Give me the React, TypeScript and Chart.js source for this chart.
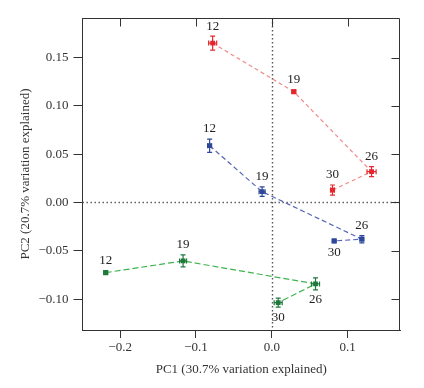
import React, { useEffect, useRef } from 'react';
import { Chart, registerables } from 'chart.js';

Chart.register(...registerables);

const CATEGORIES = ['12', '19', '26', '30'];

const RED_X = [-0.078, 0.029, 0.1315, 0.08];
const RED_Y = [0.165, 0.1147, 0.0319, 0.0129];
const RED_EX = [0.0053, 0.0026, 0.006, 0.0026];
const RED_EY = [0.0072, 0.002, 0.0052, 0.0052];
const RED_SIDE = ['above', 'above', 'above', 'above'];

const BLUE_X = [-0.082, -0.0128, 0.1187, 0.0822];
const BLUE_Y = [0.0588, 0.0112, -0.038, -0.0398];
const BLUE_EX = [0.0026, 0.004, 0.0026, 0.0026];
const BLUE_EY = [0.0069, 0.0049, 0.0038, 0.002];
const BLUE_SIDE = ['above', 'above', 'above', 'below'];

const GREEN_X = [-0.219, -0.117, 0.0576, 0.0084];
const GREEN_Y = [-0.0726, -0.0605, -0.0843, -0.1037];
const GREEN_EX = [0.0026, 0.0046, 0.0053, 0.0053];
const GREEN_EY = [0.002, 0.0062, 0.0062, 0.0047];
const GREEN_SIDE = ['above', 'above', 'below', 'below'];

const X_TICKS = [-0.2, -0.1, 0.0, 0.1];
const Y_TICKS = [-0.1, -0.05, 0.0, 0.05, 0.1, 0.15];

const X_TITLE = 'PC1 (30.7% variation explained)';
const Y_TITLE = 'PC2 (20.7% variation explained)';

const SERIES = [
  { x: RED_X, y: RED_Y, ex: RED_EX, ey: RED_EY, side: RED_SIDE, color: '#e3272c', line: '#f08a8a', dash: [4, 3] },
  { x: BLUE_X, y: BLUE_Y, ex: BLUE_EX, ey: BLUE_EY, side: BLUE_SIDE, color: '#2d4899', line: '#5566b8', dash: [5, 3] },
  { x: GREEN_X, y: GREEN_Y, ex: GREEN_EX, ey: GREEN_EY, side: GREEN_SIDE, color: '#1f7a3c', line: '#3fb34f', dash: [6, 3] },
];

const FONT = "'Liberation Serif', 'Times New Roman', serif";
const AXIS_COLOR = '#333333';

const fmt = (v: number, d: number) => {
  const s = Math.abs(v).toFixed(d);
  return v < -1e-9 ? '\u2212' + s : s;
};

const decorPlugin = {
  id: 'decor',
  beforeDatasetsDraw(chart: any) {
    const { ctx, chartArea } = chart;
    const xs = chart.scales.x;
    const ys = chart.scales.y;
    ctx.save();
    ctx.strokeStyle = '#555555';
    ctx.lineWidth = 1.4;
    ctx.setLineDash([1.4, 2.6]);
    const x0 = Math.round(xs.getPixelForValue(0)) + 0.5;
    const y0 = Math.round(ys.getPixelForValue(0)) + 0.5;
    ctx.beginPath();
    ctx.moveTo(x0, chartArea.top);
    ctx.lineTo(x0, chartArea.bottom);
    ctx.moveTo(chartArea.left, y0);
    ctx.lineTo(chartArea.right, y0);
    ctx.stroke();
    ctx.restore();
  },
  afterDatasetsDraw(chart: any) {
    const { ctx } = chart;
    const xs = chart.scales.x;
    const ys = chart.scales.y;
    SERIES.forEach((s) => {
      ctx.save();
      ctx.strokeStyle = s.color;
      ctx.lineWidth = 1.2;
      ctx.setLineDash([]);
      s.x.forEach((xv, i) => {
        const yv = s.y[i];
        const px = xs.getPixelForValue(xv);
        const py = ys.getPixelForValue(yv);
        const xl = xs.getPixelForValue(xv - s.ex[i]);
        const xr = xs.getPixelForValue(xv + s.ex[i]);
        const yt = ys.getPixelForValue(yv + s.ey[i]);
        const yb = ys.getPixelForValue(yv - s.ey[i]);
        const c = 2.5;
        ctx.beginPath();
        ctx.moveTo(xl, py); ctx.lineTo(xr, py);
        ctx.moveTo(xl, py - c); ctx.lineTo(xl, py + c);
        ctx.moveTo(xr, py - c); ctx.lineTo(xr, py + c);
        ctx.moveTo(px, yt); ctx.lineTo(px, yb);
        ctx.moveTo(px - c, yt); ctx.lineTo(px + c, yt);
        ctx.moveTo(px - c, yb); ctx.lineTo(px + c, yb);
        ctx.stroke();
      });
      ctx.restore();
      ctx.save();
      ctx.fillStyle = '#222222';
      ctx.font = `13px ${FONT}`;
      ctx.textAlign = 'center';
      ctx.textBaseline = 'middle';
      s.x.forEach((xv, i) => {
        const yv = s.y[i];
        const px = xs.getPixelForValue(xv);
        const py = ys.getPixelForValue(yv);
        const eyPx = Math.abs(ys.getPixelForValue(yv + s.ey[i]) - py);
        const off = Math.max(eyPx, 2) + 9;
        const ty = s.side[i] === 'below' ? py + off + 1 : py - off - 1;
        ctx.fillText(CATEGORIES[i], px, ty);
      });
      ctx.restore();
    });
  },
  afterDraw(chart: any) {
    const { ctx, chartArea } = chart;
    const xs = chart.scales.x;
    const ys = chart.scales.y;
    const L = 8;
    ctx.save();
    ctx.strokeStyle = AXIS_COLOR;
    ctx.lineWidth = 1;
    ctx.setLineDash([]);
    const top = Math.round(chartArea.top) + 0.5;
    const right = Math.round(chartArea.right) - 0.5;
    ctx.beginPath();
    ctx.moveTo(chartArea.left, top);
    ctx.lineTo(right, top);
    ctx.lineTo(right, chartArea.bottom);
    X_TICKS.forEach((v) => {
      const p = Math.round(xs.getPixelForValue(v)) + 0.5;
      ctx.moveTo(p, top);
      ctx.lineTo(p, top + L);
    });
    Y_TICKS.forEach((v) => {
      const p = Math.round(ys.getPixelForValue(v)) + 0.5;
      ctx.moveTo(right, p);
      ctx.lineTo(right - L, p);
    });
    ctx.stroke();
    ctx.restore();
  },
};

export default function App() {
  const ref = useRef<HTMLCanvasElement | null>(null);
  useEffect(() => {
    document.body.style.margin = '0';
    Chart.defaults.font.family = FONT;
    const canvas = ref.current;
    if (!canvas) return;
    const chart = new Chart(canvas, {
      type: 'scatter',
      data: {
        datasets: SERIES.map((s) => ({
          data: s.x.map((xv, i) => ({ x: xv, y: s.y[i] })),
          showLine: true,
          borderColor: s.line,
          borderWidth: 1.2,
          borderDash: s.dash,
          backgroundColor: s.color,
          pointBackgroundColor: s.color,
          pointBorderColor: s.color,
          pointBorderWidth: 0,
          pointStyle: 'rect',
          pointRadius: 3.4,
          pointHoverRadius: 3.4,
        })),
      },
      options: {
        animation: false,
        responsive: false,
        maintainAspectRatio: false,
        events: [],
        layout: { padding: { left: 0, right: 24, top: 18, bottom: 0 } },
        plugins: { legend: { display: false }, tooltip: { enabled: false } },
        scales: {
          x: {
            type: 'linear',
            min: -0.2496,
            max: 0.169,
            afterBuildTicks: (scale: any) => {
              scale.ticks = X_TICKS.map((v) => ({ value: v }));
            },
            afterFit: (scale: any) => {
              scale.height = 58;
            },
            ticks: {
              callback: (v: any) => fmt(Number(v), 1),
              color: AXIS_COLOR,
              font: { size: 13, family: FONT },
              padding: 2,
              maxRotation: 0,
            },
            grid: { drawOnChartArea: false, drawTicks: true, tickLength: 8, color: AXIS_COLOR, lineWidth: 1 },
            border: { display: true, color: AXIS_COLOR, width: 1 },
            title: {
              display: true,
              text: X_TITLE,
              color: AXIS_COLOR,
              font: { size: 13, family: FONT },
              padding: { top: 0, bottom: 11 },
            },
          },
          y: {
            type: 'linear',
            min: -0.132,
            max: 0.191,
            afterBuildTicks: (scale: any) => {
              scale.ticks = Y_TICKS.map((v) => ({ value: v }));
            },
            afterFit: (scale: any) => {
              scale.width = 82.5;
            },
            ticks: {
              callback: (v: any) => fmt(Number(v), 2),
              color: AXIS_COLOR,
              font: { size: 13, family: FONT },
              padding: 5,
            },
            grid: { drawOnChartArea: false, drawTicks: true, tickLength: 9, color: AXIS_COLOR, lineWidth: 1 },
            border: { display: true, color: AXIS_COLOR, width: 1 },
            title: {
              display: true,
              text: Y_TITLE,
              color: AXIS_COLOR,
              font: { size: 13, family: FONT },
              padding: { top: 18, bottom: 0 },
            },
          },
        },
      },
      plugins: [decorPlugin],
    } as any);
    return () => chart.destroy();
  }, []);
  return (
    <div style={{ width: 424, height: 388 }}>
      <canvas ref={ref} width={424} height={388} style={{ width: 424, height: 388, display: 'block' }} />
    </div>
  );
}
